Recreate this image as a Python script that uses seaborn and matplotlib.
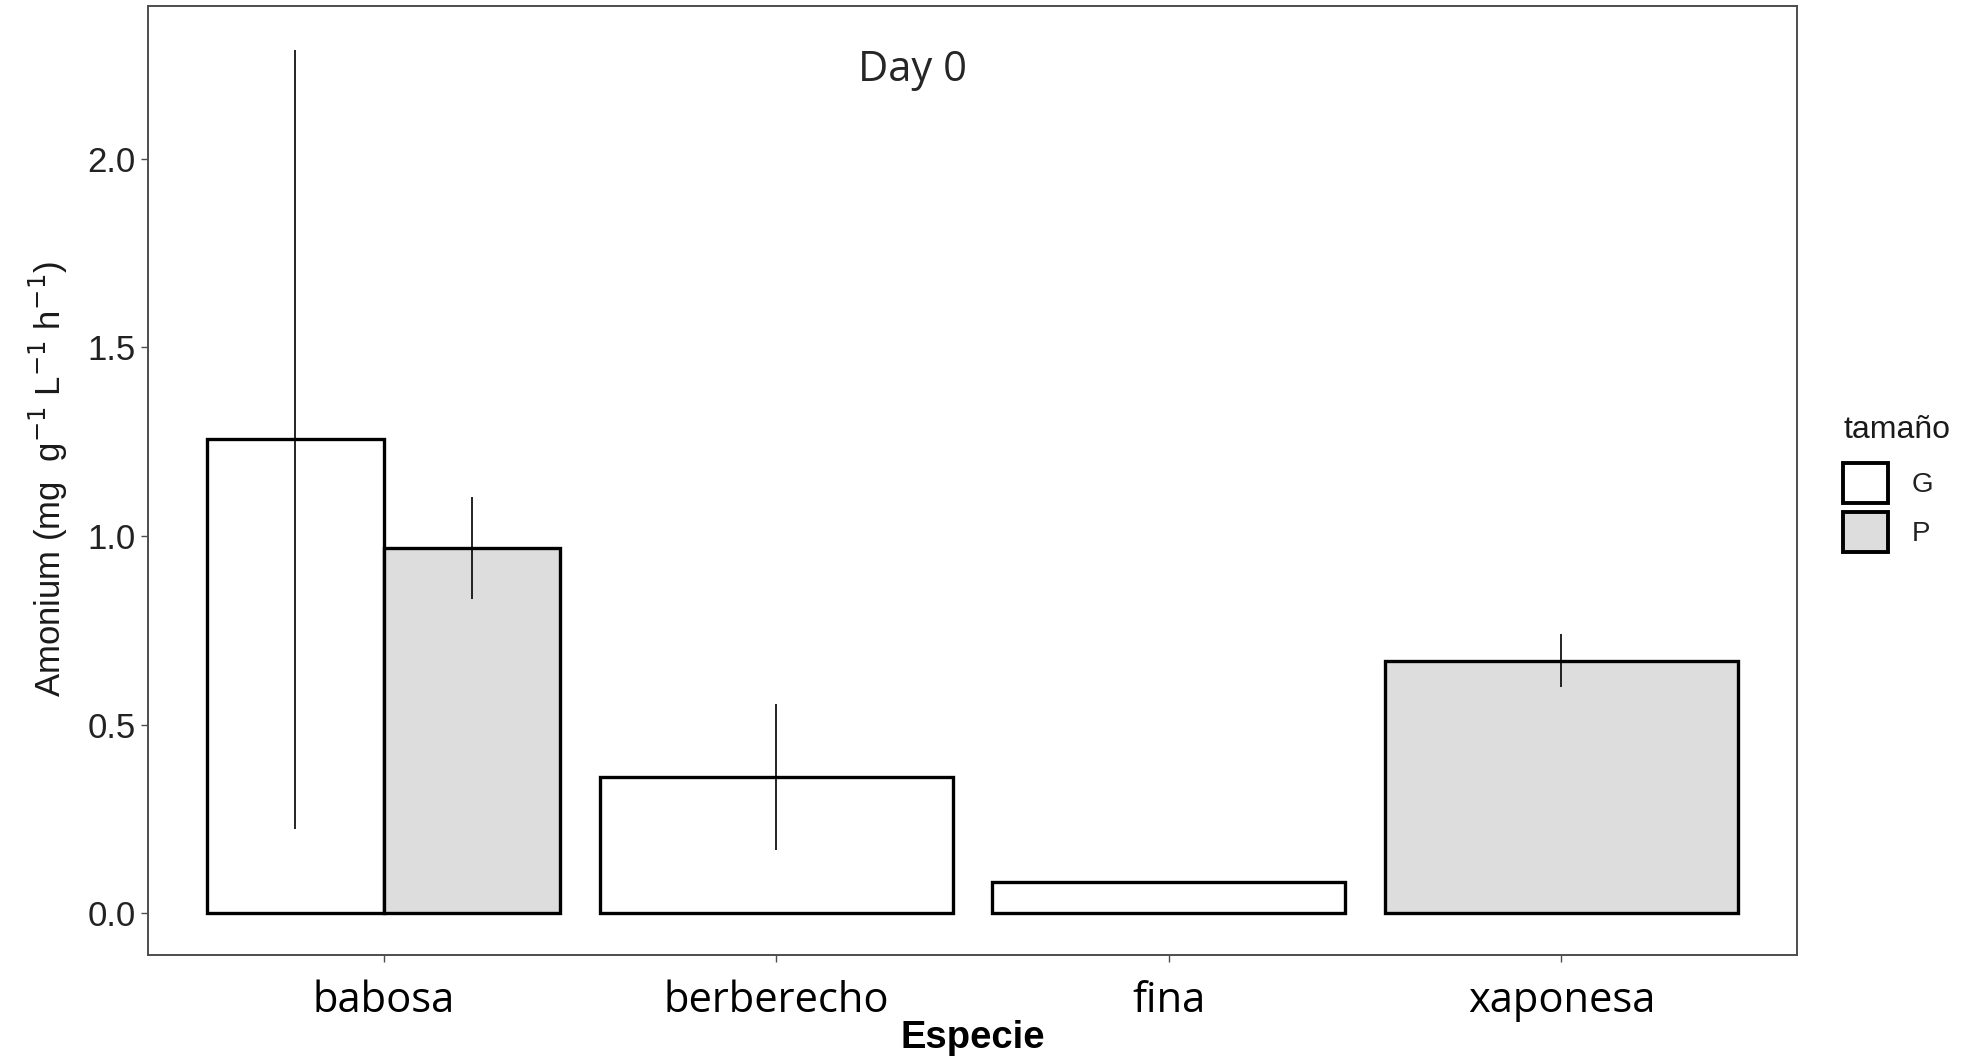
import numpy as np
import pandas as pd
import matplotlib
matplotlib.use("Agg")
import matplotlib.pyplot as plt
from matplotlib.patches import Patch
import seaborn as sns

# ---- data ----
especies = ["babosa", "berberecho", "fina", "xaponesa"]
tamanos = ["G", "P"]
bar_especie = ["babosa", "babosa", "berberecho", "fina", "xaponesa"]
bar_tamano = ["G", "P", "G", "G", "P"]
bar_media = [1.257, 0.969, 0.362, 0.083, 0.670]
bar_se = [1.032, 0.136, 0.194, np.nan, 0.070]
yticks = [0.0, 0.5, 1.0, 1.5, 2.0]
ytick_labels = ["0.0", "0.5", "1.0", "1.5", "2.0"]
fill_colors = {"G": "#FFFFFF", "P": "#DDDDDD"}
title_text = "Day 0"

df = pd.DataFrame({"Especie": bar_especie, "tamaño": bar_tamano,
                   "Amonium": bar_media, "se": bar_se})

sns.set_style("white")
plt.rcParams["font.family"] = ["Liberation Sans", "DejaVu Sans"]

fig = plt.figure(figsize=(19.62, 10.60), dpi=100)
ax = fig.add_axes([148/1962, 1-955/1060, (1797-148)/1962, (955-6)/1060])

# categories with both sizes -> dodged; single size -> full width
counts = df.groupby("Especie")["tamaño"].transform("count")
df_two = df[counts > 1]
df_one = df[counts == 1]
W = 0.9
common = dict(x="Especie", y="Amonium", hue="tamaño", order=especies,
              hue_order=tamanos, palette=fill_colors, width=W,
              edgecolor="black", linewidth=2.4, errorbar=None,
              saturation=1, legend=False, ax=ax)
sns.barplot(data=df_two, dodge=True, **common)
sns.barplot(data=df_one, dodge=False, **common)

# error bars
two_set = set(df_two["Especie"])
xs = []
for _, r in df.iterrows():
    i = especies.index(r["Especie"])
    if r["Especie"] in two_set:
        off = (tamanos.index(r["tamaño"]) - 0.5) * W / 2
    else:
        off = 0.0
    xs.append(i + off)
ax.errorbar(xs, df["Amonium"], yerr=df["se"], fmt="none", ecolor="black",
            elinewidth=1.2, capsize=0, zorder=5)

ax.set_xlim(-0.6, 3.6)
ax.set_ylim(-0.11, 2.405)
ax.set_yticks(yticks)
ax.set_yticklabels(ytick_labels)

for s in ax.spines.values():
    s.set_visible(True)
    s.set_color("#4d4d4d")
    s.set_linewidth(1.4)

ax.tick_params(axis="y", length=5, width=1.0, color="#4d4d4d", pad=4,
               labelsize=25, labelcolor="#222222", left=True)
ax.tick_params(axis="x", length=5, width=1.0, color="#4d4d4d", pad=13,
               bottom=True)
for lab in ax.get_xticklabels():
    lab.set_fontfamily(["Open Sans", "DejaVu Sans"])
    lab.set_fontsize(30)
    lab.set_color("black")

ax.set_xlabel("Especie", fontsize=27.5, fontweight="bold", color="black")
ax.xaxis.set_label_coords(0.5, -0.087)
ax.xaxis.label.set_va("center")

ax.set_ylabel(r"Amonium (mg  g$^{-1}$ L$^{-1}$ h$^{-1}$)", fontsize=25,
              color="#1a1a1a")
ax.yaxis.set_label_coords(-0.0606, 0.5016)
ax.yaxis.label.set_va("center")
ax.yaxis.label.set_ha("center")

fig.text(913/1962, 1-70/1060, title_text, fontsize=30,
         family=["Open Sans", "DejaVu Sans"], ha="center", va="center")

handles = [Patch(facecolor=fill_colors[t], edgecolor="black", linewidth=2.8,
                 label=t) for t in tamanos]
leg = fig.legend(handles=handles, title="tamaño", loc="upper left",
                 bbox_to_anchor=(1843/1962, 1-415/1060), frameon=False,
                 fontsize=20, title_fontsize=23, handlelength=1.62,
                 handleheight=1.85, handletextpad=0.85, labelspacing=0.3,
                 borderpad=0, borderaxespad=0)
leg._legend_box.align = "left"
leg._legend_box.sep = 13
for t in leg.get_texts():
    t.set_color("#222222")
leg.get_title().set_color("#1a1a1a")

fig.savefig("out.png", dpi=100)
